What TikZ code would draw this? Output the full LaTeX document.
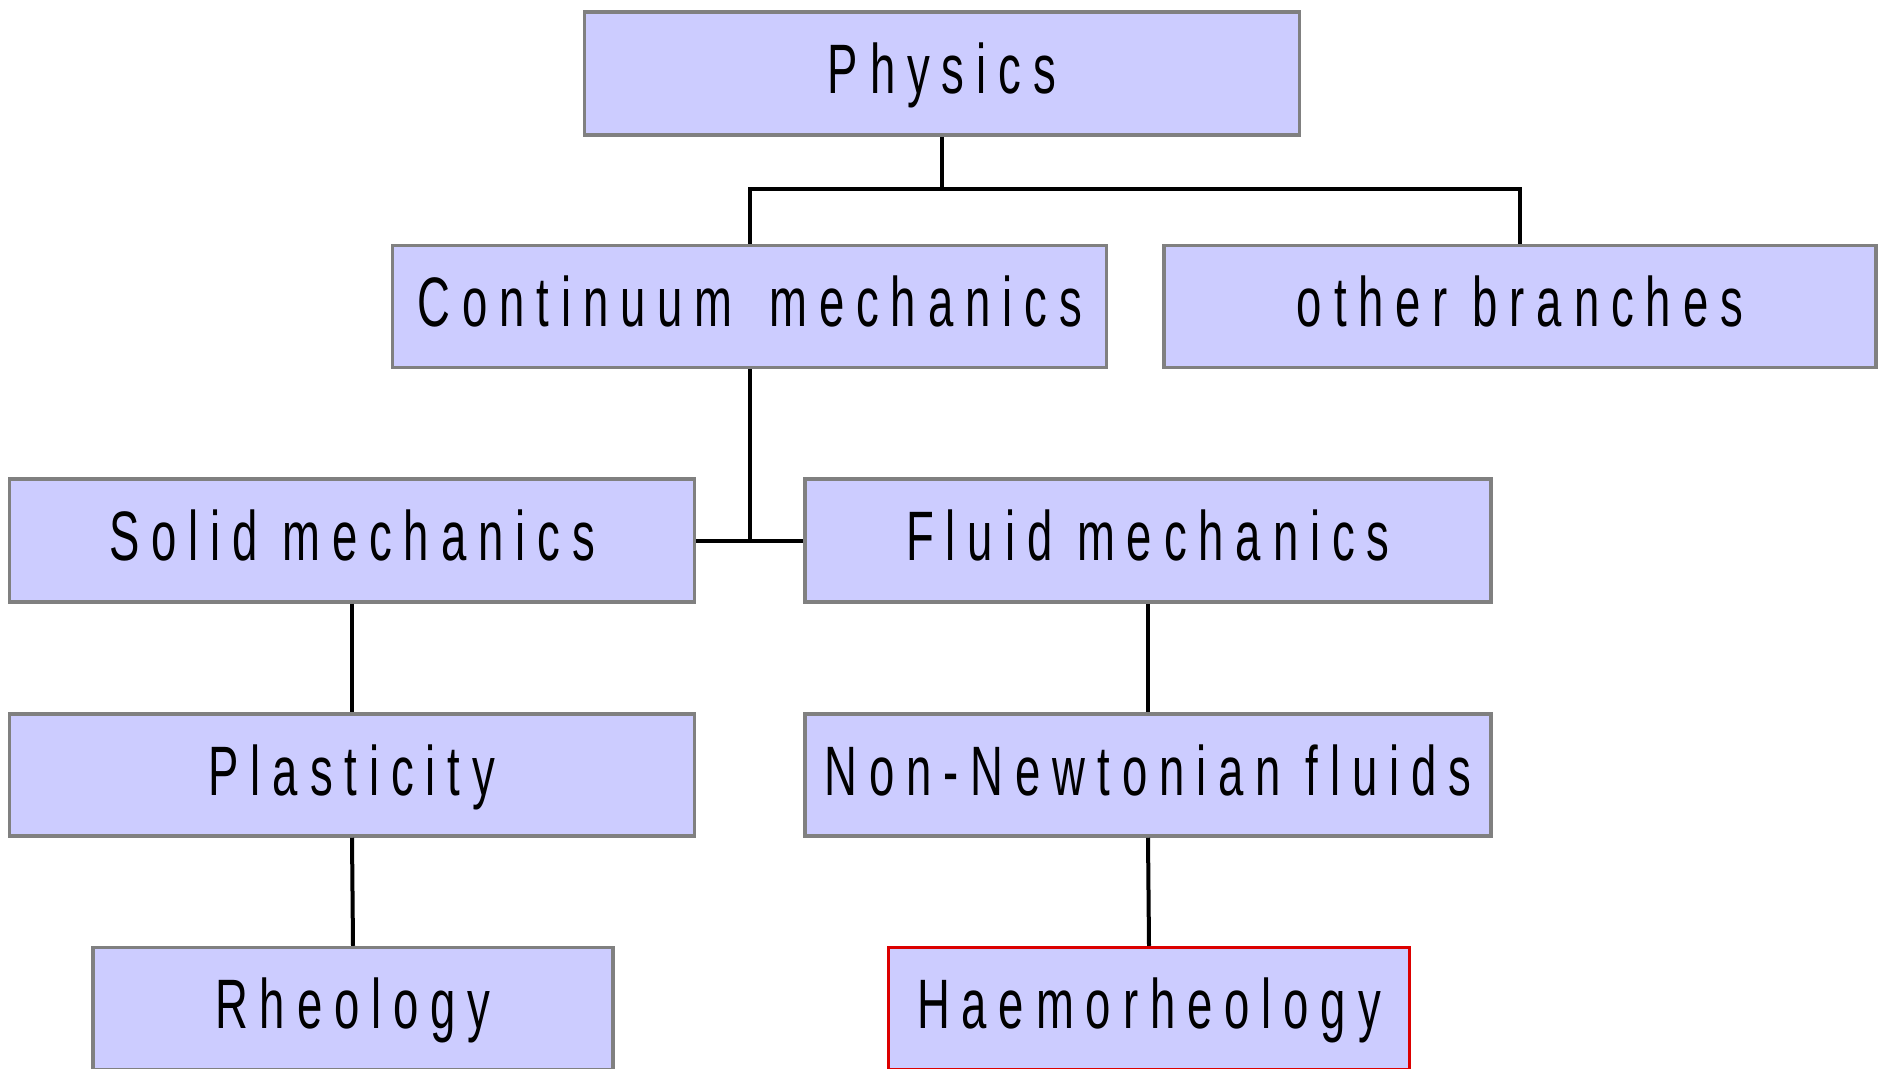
\documentclass[tikz,border=0pt]{standalone}
\usepackage{fontspec}
\newfontfamily\boxfont[FakeStretch=0.65, LetterSpace=17]{Liberation Sans}
\definecolor{boxfill}{RGB}{204,204,255}
\definecolor{boxline}{RGB}{128,128,128}
\definecolor{hired}{RGB}{220,0,0}
\tikzset{
  tbox/.style={draw=boxline, line width=3.5pt, fill=boxfill, inner sep=0pt,
    font=\boxfont\fontsize{70}{80}\selectfont, text height=50pt, text depth=10pt},
  conn/.style={draw=black, line width=4pt}
}
\begin{document}
\begin{tikzpicture}[x=1pt,y=-1pt]
\useasboundingbox (0,0) rectangle (1878,1068);
\node[tbox, minimum width=715pt, minimum height=123pt] (phys) at (942,73.6) {Physics};
\node[tbox, minimum width=714pt, minimum height=122pt] (cont) at (749.7,306.6) {Continuum \hspace{12pt}mechanics};
\node[tbox, minimum width=712pt, minimum height=122pt] (other) at (1520,306.6) {other branches};
\node[tbox, minimum width=685pt, minimum height=123pt] (solid) at (352,540.7) {Solid mechanics};
\node[tbox, minimum width=686pt, minimum height=123pt] (fluid) at (1148,540.7) {Fluid mechanics};
\node[tbox, minimum width=685pt, minimum height=122pt] (plast) at (352,775) {Plasticity};
\node[tbox, minimum width=686pt, minimum height=122pt] (nonn) at (1148,775) {Non-Newtonian fluids};
\node[tbox, minimum width=520pt, minimum height=122pt] (rheo) at (353,1008.5) {Rheology};
\node[tbox, draw=hired, minimum width=521pt, minimum height=122pt] (haemo) at (1149,1008.5) {Haemorheology};
\coordinate (j1) at (942,189);
\draw[conn] (phys.south) -- (j1);
\draw[conn] (cont.north) |- (j1) -| (other.north);
\draw[conn] (cont.south) -- (cont.south |- solid.east);
\draw[conn] (solid.east) -- (fluid.west);
\draw[conn] (solid.south) -- (plast.north);
\draw[conn] (plast.south) -- (rheo.north);
\draw[conn] (fluid.south) -- (nonn.north);
\draw[conn] (nonn.south) -- (haemo.north);
\end{tikzpicture}
\end{document}
